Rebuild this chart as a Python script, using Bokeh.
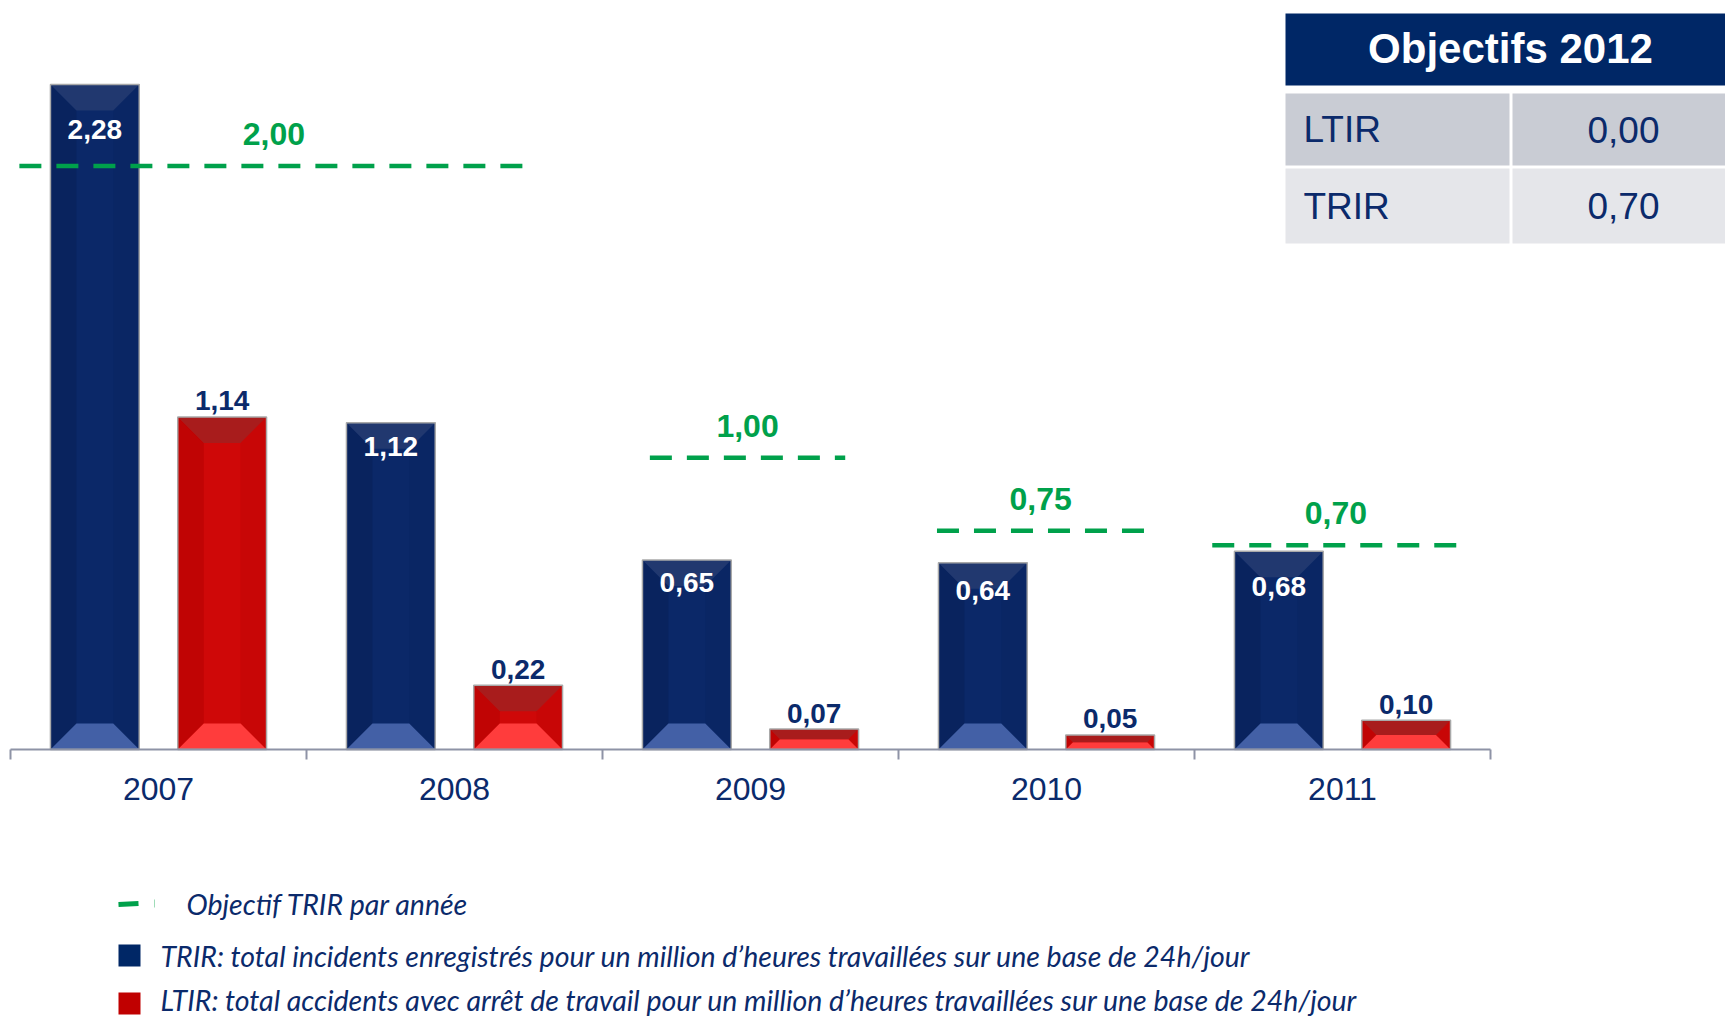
from bokeh.plotting import figure
from bokeh.models import Range1d
from bokeh.core.properties import value
from bokeh.embed import file_html
from bokeh.resources import INLINE

# ---------------- data ----------------
years = ["2007", "2008", "2009", "2010", "2011"]
trir = [2.28, 1.12, 0.65, 0.64, 0.68]
ltir = [1.14, 0.22, 0.07, 0.05, 0.10]
target_values = [2.00, 1.00, 0.75, 0.70]
target_first_year = ["2007", "2009", "2010", "2011"]
target_last_year = ["2008", "2009", "2010", "2011"]
table_title = "Objectifs 2012"
table_rows = ["LTIR", "TRIR"]
table_values = [0.00, 0.70]
legend_texts = [
    "Objectif TRIR par année",
    "TRIR: total incidents enregistrés pour un million d\u2019heures travaillées sur une base de 24h/jour",
    "LTIR: total accidents avec arrêt de travail pour un million d\u2019heures travaillées sur une base de 24h/jour",
]


def fr(v):
    return f"{v:.2f}".replace(".", ",")


# ---------------- layout / style ----------------
W, H = 1725, 1020
PX_X = 296.0      # pixels per category
PX_Y = 291.7      # pixels per unit
X0, Y0 = 10, 749  # page pixel of x=0 / y=0
NAVY = "#0b2a6b"
GREEN = "#00a14b"
BAR_W = 0.30
BLUE_OFF, RED_OFF = 0.285, 0.715
SEG_INSET_L = [0.03, 0.16, 0.13, 0.06]
SEG_INSET_R = [0.25, 0.18, 0.17, 0.105]
BLUE_LABEL_DY = [45, 24, 23, 28, 35]


def dx(px):
    return (px - X0) / PX_X


def dy(py):
    return (Y0 - py) / PX_Y


p = figure(width=W, height=H, output_backend="svg", toolbar_location=None,
           x_range=Range1d(dx(0), dx(W)), y_range=Range1d(dy(H), dy(0)),
           x_axis_type=None, y_axis_type=None, min_border=0,
           min_border_left=0, min_border_right=0, min_border_top=0, min_border_bottom=0)
p.grid.visible = False
p.outline_line_color = None
p.background_fill_color = "white"
p.border_fill_color = "white"

idx = {y: i for i, y in enumerate(years)}
blue_x = [i + BLUE_OFF for i in range(len(years))]
red_x = [i + RED_OFF for i in range(len(years))]


def bevel_bars(xs, vals, base, top_c, bot_c, left_c, right_c):
    p.vbar(x=xs, top=vals, bottom=0, width=BAR_W, fill_color=base, line_color=None)
    for x, v in zip(xs, vals):
        l, r = x - BAR_W / 2, x + BAR_W / 2
        hpx = v * PX_Y
        d = min(26.0, hpx / 2)
        ddx, ddy = d / PX_X, d / PX_Y
        p.patch([l, l + ddx, l + ddx, l], [0, ddy, v - ddy, v], fill_color=left_c, line_color=None)
        p.patch([r, r - ddx, r - ddx, r], [0, ddy, v - ddy, v], fill_color=right_c, line_color=None)
        p.patch([l, r, r - ddx, l + ddx], [0, 0, ddy, ddy], fill_color=bot_c, line_color=None)
        p.patch([l, r, r - ddx, l + ddx], [v, v, v - ddy, v - ddy], fill_color=top_c, line_color=None)
    p.vbar(x=xs, top=vals, bottom=0, width=BAR_W, fill_color=None, line_color="#a9a9a9", line_width=1.5)


bevel_bars(blue_x, trir, "#0b2868", "#21386f", "#4360a6", "#09235e", "#0a2664")
bevel_bars(red_x, ltir, "#cf0808", "#a81c1c", "#ff3c3c", "#c00404", "#c80606")

# axis
p.segment(x0=[0], y0=[0], x1=[len(years)], y1=[0], line_color="#8e93a6", line_width=2)
ticks = list(range(len(years) + 1))
p.segment(x0=ticks, y0=[0] * len(ticks), x1=ticks, y1=[-10 / PX_Y] * len(ticks),
          line_color="#8e93a6", line_width=2)
p.text(x=[i + 0.5 for i in range(len(years))], y=[-39 / PX_Y] * len(years), text=years,
       text_align="center", text_baseline="middle", text_font=value("Liberation Sans"),
       text_font_size="32px", text_color=NAVY)

# target lines
for k, (v, a, b) in enumerate(zip(target_values, target_first_year, target_last_year)):
    xa = idx[a] + SEG_INSET_L[k]
    xb = idx[b] + 1 - SEG_INSET_R[k]
    p.line(x=[xa, xb], y=[v, v], line_color=GREEN, line_width=4.5, line_dash="22 15")
    p.text(x=[(xa + xb) / 2], y=[v + 32 / PX_Y], text=[fr(v)], text_align="center",
           text_baseline="middle", text_font=value("Liberation Sans"), text_font_style="bold",
           text_font_size="32px", text_color=GREEN)

# value labels
p.text(x=blue_x, y=[v - d / PX_Y for v, d in zip(trir, BLUE_LABEL_DY)], text=[fr(v) for v in trir],
       text_align="center", text_baseline="middle", text_font=value("Liberation Sans"),
       text_font_style="bold", text_font_size="28px", text_color="white")
p.text(x=red_x, y=[v + 16 / PX_Y for v in ltir], text=[fr(v) for v in ltir],
       text_align="center", text_baseline="middle", text_font=value("Liberation Sans"),
       text_font_style="bold", text_font_size="28px", text_color=NAVY)

# table
p.quad(left=[dx(1285)], right=[dx(1725)], top=[dy(13)], bottom=[dy(85)], fill_color="#002766", line_color=None)
p.text(x=[dx(1510)], y=[dy(48)], text=[table_title], text_align="center", text_baseline="middle",
       text_font=value("Liberation Sans"), text_font_style="bold", text_font_size="42px", text_color="white")
row_tops = [93, 168]
row_bots = [165, 243]
row_cols = ["#c9ccd4", "#e5e6ea"]
for lab, val, t, b, c in zip(table_rows, table_values, row_tops, row_bots, row_cols):
    p.quad(left=[dx(1285), dx(1512)], right=[dx(1509), dx(1725)], top=[dy(t)] * 2, bottom=[dy(b)] * 2,
           fill_color=c, line_color=None)
    p.text(x=[dx(1303)], y=[dy((t + b) / 2)], text=[lab], text_align="left", text_baseline="middle",
           text_font=value("Liberation Sans"), text_font_size="37px", text_color=NAVY)
    p.text(x=[dx(1623)], y=[dy((t + b) / 2)], text=[fr(val)], text_align="center", text_baseline="middle",
           text_font=value("Liberation Sans"), text_font_size="37px", text_color=NAVY)

# legend
p.segment(x0=[dx(118)], y0=[dy(904)], x1=[dx(138)], y1=[dy(903)], line_color=GREEN, line_width=5)
p.segment(x0=[dx(154)], y0=[dy(899)], x1=[dx(154)], y1=[dy(907)], line_color="#9fdcb8", line_width=1)
p.quad(left=[dx(118)], right=[dx(140)], top=[dy(944)], bottom=[dy(966)], fill_color="#002766", line_color=None)
p.quad(left=[dx(118)], right=[dx(140)], top=[dy(992)], bottom=[dy(1014)], fill_color="#c00000", line_color=None)
p.text(x=[dx(186), dx(160), dx(160)], y=[dy(903), dy(955), dy(999)], text=legend_texts,
       text_align="left", text_baseline="middle", text_font=value("Lato"), text_font_style="italic",
       text_font_size="28.5px", text_color=NAVY)

open("out.html", "w").write(file_html(p, INLINE))
